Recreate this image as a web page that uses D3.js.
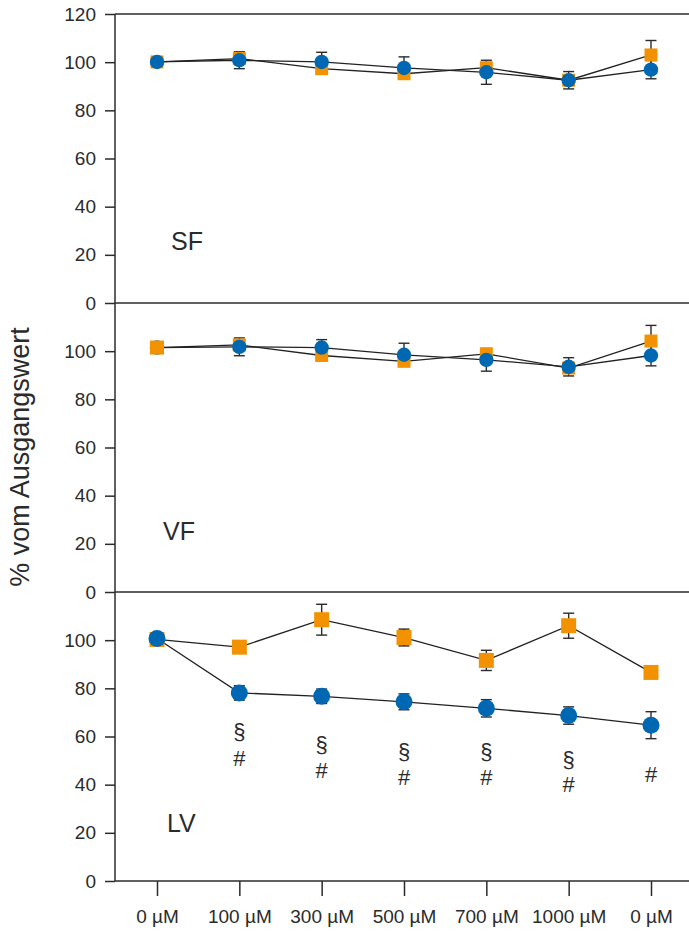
<!DOCTYPE html>
<html lang="de">
<head>
<meta charset="UTF-8">
<title>% vom Ausgangswert</title>
<script src="https://d3js.org/d3.v7.min.js"></script>
<style>
    body { margin: 0; background: #fff; }
    svg { display: block; font-family: "Liberation Sans", Arial, sans-serif; }
</style>
</head>
<body>
<div id="chart"></div>
<script>
// x categories
var doses = ["0 µM", "100 µM", "300 µM", "500 µM", "700 µM", "1000 µM", "0 µM"];
var panelNames = ["SF", "VF", "LV"];

// SF
var sfOrange = [100.1, 101.5, 97.3, 95.2, 97.7, 92.5, 103];
var sfOrangeErr = [0.5, 1.5, 1.5, 1.5, 2, 1.5, 6];
var sfBlue = [100.1, 100.8, 100.1, 97.6, 95.8, 92.5, 96.9];
var sfBlueErr = [0.5, 3.5, 4, 4.6, 5, 3.6, 3.8];

// VF
var vfOrange = [101.5, 102.6, 98.2, 95.8, 98.9, 93, 104.2];
var vfOrangeErr = [0.5, 1.5, 1.5, 1.5, 1.5, 1.5, 6.5];
var vfBlue = [101.5, 101.8, 101.5, 98.5, 96.4, 93.5, 98.2];
var vfBlueErr = [0.5, 3.7, 3.3, 4.8, 4.7, 3.8, 4.3];

// LV
var lvOrange = [100.3, 97.1, 108.5, 101.1, 91.6, 106, 86.6];
var lvOrangeErr = [0.5, 1.5, 6.4, 3.5, 4.2, 5.2, 1.5];
var lvBlue = [100.7, 78.1, 76.7, 74.4, 71.7, 68.7, 64.7];
var lvBlueErr = [0.5, 3, 3, 3.3, 3.6, 3.6, 5.6];

// significance marks in LV (y in data units)
var sectionY = [null, 62.3, 56.9, 54, 54, 50.7, null];
var hashY = [null, 51.1, 46.1, 43.2, 43.2, 40.3, 44.4];

var topTicks = [0, 20, 40, 60, 80, 100, 120];
var otherTicks = [0, 20, 40, 60, 80, 100];

var W = 689, H = 931;
var axisX = 115, plotTop = 14, panelH = 289, rightEdge = 689;
var orange = "#f39200", blue = "#0067b3", ink = "#2b2b2b";

var panels = [
    {name: panelNames[0], orange: sfOrange, orangeErr: sfOrangeErr, blue: sfBlue, blueErr: sfBlueErr, ticks: topTicks, labelX: 171, labelY: 250, sq: 13, r: 7.2},
    {name: panelNames[1], orange: vfOrange, orangeErr: vfOrangeErr, blue: vfBlue, blueErr: vfBlueErr, ticks: otherTicks, labelX: 163, labelY: 540, sq: 13, r: 7.2, orangeFirstOnTop: true},
    {name: panelNames[2], orange: lvOrange, orangeErr: lvOrangeErr, blue: lvBlue, blueErr: lvBlueErr, ticks: otherTicks, labelX: 167, labelY: 832, sq: 15, r: 8.5}
];

var svg = d3.select("#chart").append("svg")
    .attr("width", W)
    .attr("height", H);

var x = d3.scaleLinear().domain([0, doses.length - 1]).range([157, 651]);

var line = function(y){
    return d3.line().x(function(d, i){ return x(i); }).y(function(d){ return y(d); });
};

var lastY;

panels.forEach(function(p, k){
    var top = plotTop + k * panelH;
    var y = d3.scaleLinear().domain([0, 120]).range([top + panelH, top]);
    lastY = y;
    var g = svg.append("g");

    // y axis
    var ax = g.append("g")
        .attr("transform", "translate(" + axisX + ",0)")
        .call(d3.axisLeft(y).tickValues(p.ticks).tickSize(10).tickPadding(9));
    ax.select(".domain").remove();
    ax.selectAll(".tick line").attr("stroke", ink).attr("stroke-width", 1.5);
    ax.selectAll(".tick text").attr("fill", ink).style("font-size", "19px").style("font-family", "inherit");

    // panel lines
    g.append("line")
        .attr("x1", axisX).attr("x2", rightEdge)
        .attr("y1", y(0)).attr("y2", y(0))
        .attr("stroke", ink).attr("stroke-width", 1.5);
    if (k === 0) {
        g.append("line")
            .attr("x1", axisX).attr("x2", rightEdge)
            .attr("y1", y(120)).attr("y2", y(120))
            .attr("stroke", ink).attr("stroke-width", 1.5);
    }

    // connecting lines
    g.append("path").datum(p.orange)
        .attr("d", line(y)).attr("fill", "none").attr("stroke", "#222").attr("stroke-width", 1.3);
    g.append("path").datum(p.blue)
        .attr("d", line(y)).attr("fill", "none").attr("stroke", "#222").attr("stroke-width", 1.3);

    // error bars
    function errBars(vals, errs){
        var eg = g.append("g").attr("stroke", ink).attr("stroke-width", 1.4);
        vals.forEach(function(v, i){
            var e = errs[i];
            eg.append("line").attr("x1", x(i)).attr("x2", x(i)).attr("y1", y(v - e)).attr("y2", y(v + e));
            eg.append("line").attr("x1", x(i) - 5.5).attr("x2", x(i) + 5.5).attr("y1", y(v - e)).attr("y2", y(v - e));
            eg.append("line").attr("x1", x(i) - 5.5).attr("x2", x(i) + 5.5).attr("y1", y(v + e)).attr("y2", y(v + e));
        });
    }
    errBars(p.orange, p.orangeErr);
    errBars(p.blue, p.blueErr);

    // markers
    var s = p.sq;
    g.append("g").selectAll("rect")
        .data(p.orange)
        .enter().append("rect")
        .attr("x", function(d, i){ return x(i) - s / 2; })
        .attr("y", function(d){ return y(d) - s / 2; })
        .attr("width", s).attr("height", s)
        .attr("fill", orange);
    g.append("g").selectAll("circle")
        .data(p.blue)
        .enter().append("circle")
        .attr("cx", function(d, i){ return x(i); })
        .attr("cy", function(d){ return y(d); })
        .attr("r", p.r)
        .attr("fill", blue);
    if (p.orangeFirstOnTop) {
        g.append("rect")
            .attr("x", x(0) - s / 2 - 0.5).attr("y", y(p.orange[0]) - s / 2 - 0.5)
            .attr("width", s + 1).attr("height", s + 1)
            .attr("fill", orange);
    }

    // panel label
    g.append("text")
        .attr("x", p.labelX).attr("y", p.labelY)
        .attr("fill", ink)
        .style("font-size", "25px")
        .text(p.name);
});

// significance marks for LV
var sig = svg.append("g").attr("fill", ink).attr("text-anchor", "middle").style("font-size", "22px");
sectionY.forEach(function(v, i){
    if (v === null) return;
    sig.append("text").attr("x", x(i)).attr("y", lastY(v)).attr("dy", "0.35em").text("§");
});
hashY.forEach(function(v, i){
    if (v === null) return;
    sig.append("text").attr("x", x(i)).attr("y", lastY(v)).attr("dy", "0.35em").text("#");
});

// vertical axis line
svg.append("line")
    .attr("x1", axisX).attr("x2", axisX)
    .attr("y1", plotTop).attr("y2", plotTop + 3 * panelH)
    .attr("stroke", ink).attr("stroke-width", 1.5);

// x axis
var xa = svg.append("g")
    .attr("transform", "translate(0," + (plotTop + 3 * panelH) + ")")
    .call(d3.axisBottom(x).tickValues(d3.range(doses.length)).tickFormat(function(i){ return doses[i]; }).tickSize(15).tickPadding(14));
xa.select(".domain").remove();
xa.selectAll(".tick line").attr("stroke", ink).attr("stroke-width", 1.5);
xa.selectAll(".tick text").attr("fill", ink).style("font-size", "19px").style("font-family", "inherit");

// y label
svg.append("text")
    .attr("transform", "translate(29," + 457 + ") rotate(-90)")
    .attr("text-anchor", "middle")
    .attr("fill", ink)
    .style("font-size", "27px")
    .text("% vom Ausgangswert");
</script>
</body>
</html>
